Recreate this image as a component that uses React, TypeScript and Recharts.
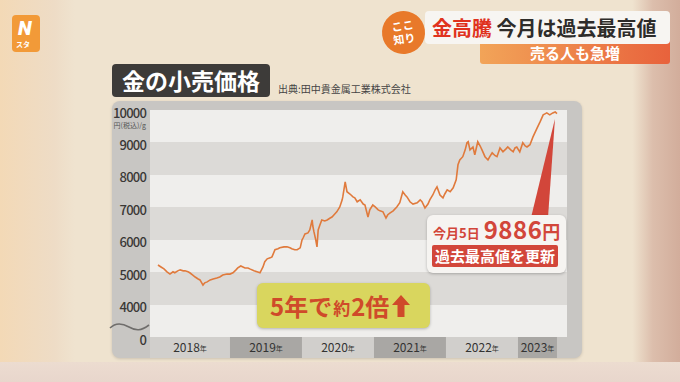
import React from 'react';
import { LineChart, Line, XAxis, YAxis, CartesianGrid, ReferenceArea, ReferenceDot } from 'recharts';

// months counted from Jan 2018
const MONTHS = [
  0, 0.5, 1, 1.5, 2, 2.5, 2.8, 3.3, 3.7, 4.2,
  4.5, 5, 5.3, 5.8, 6.2, 6.7, 7, 7.5, 7.8, 8.2,
  8.7, 9.2, 9.8, 10.3, 10.8, 11.5, 12, 12.5, 13, 13.3,
  13.8, 14.5, 15, 15.3, 16, 16.5, 17, 17.5, 17.8, 18.2,
  18.7, 19, 19.5, 20, 20.3, 21, 21.5, 22, 22.3, 22.8,
  23.2, 23.7, 24, 24.2, 24.5, 25, 25.3, 25.7, 25.8, 26,
  26.3, 26.5, 26.7, 27, 27.3, 27.8, 28.2, 28.7, 29, 29.5,
  29.8, 30.3, 30.7, 30.8, 31.2, 31.5, 32, 32.5, 32.8, 33.2,
  33.7, 34.2, 34.5, 35, 35.3, 35.8, 36.2, 36.7, 37, 37.5,
  38, 38.3, 38.7, 39.2, 39.8, 40.3, 40.8, 41.2, 41.5, 42,
  42.5, 43.2, 43.7, 44, 44.5, 45, 45.3, 45.8, 46.2, 46.5,
  47, 47.5, 47.8, 48.2, 48.7, 49.2, 49.7, 50, 50.3, 50.8,
  51.2, 51.5, 51.7, 52, 52.5, 52.8, 53.3, 53.7, 54, 54.5,
  55, 55.3, 55.7, 56.2, 56.5, 57, 57.5, 58, 58.3, 58.8,
  59.2, 59.5, 59.8, 60.3, 60.8, 61.2, 61.5, 62, 62.5, 63.2,
  63.7, 64.2, 64.5, 64.8, 65.3, 65.8, 66.2, 66.5,
];

// 円(税込)/g
const PRICES = [
  5220, 5160, 5100, 5010, 4940, 5010, 4980, 5040, 5070, 5040,
  5040, 5010, 4980, 4910, 4850, 4790, 4760, 4600, 4670, 4700,
  4760, 4790, 4820, 4850, 4910, 4940, 4940, 4980, 5070, 5130,
  5190, 5130, 5130, 5100, 5040, 5010, 4980, 5160, 5320, 5410,
  5440, 5470, 5690, 5720, 5750, 5780, 5780, 5750, 5720, 5690,
  5690, 5750, 5990, 6060, 6180, 6210, 6300, 6610, 6430, 6240,
  5990, 5780, 6300, 6460, 6610, 6580, 6610, 6670, 6700, 6800,
  6860, 7010, 7230, 7320, 7780, 7480, 7410, 7320, 7290, 7170,
  7230, 7100, 7070, 6700, 6920, 7070, 7010, 6920, 6890, 6860,
  6670, 6770, 6830, 6890, 7010, 7140, 7480, 7380, 7320, 7170,
  7100, 7140, 7230, 7170, 6980, 7100, 7230, 7380, 7540, 7630,
  7380, 7290, 7410, 7540, 7480, 7600, 7850, 8310, 8460, 8560,
  8770, 8990, 9020, 8770, 8860, 8620, 9020, 8890, 8770, 8560,
  8460, 8560, 8680, 8590, 8560, 8830, 8710, 8800, 8860, 8770,
  8710, 8830, 8860, 8710, 8990, 8890, 8860, 8930, 9170, 9450,
  9640, 9850, 9880, 9910, 9850, 9910, 9940, 9886,
];

const YEARS = ['2018', '2019', '2020', '2021', '2022', '2023'];
const YEAR_FROM = [-1.33, 12, 24, 36, 48, 60];
const YEAR_TO = [12, 24, 36, 48, 60, 66.5];

const Y_TICKS = [3000, 4000, 5000, 6000, 7000, 8000, 9000, 10000];
const Y_LABELS = ['0', '4000', '5000', '6000', '7000', '8000', '9000', '10000'];

const LATEST_DAY = '今月5日';
const LATEST_PRICE = 9886;

const data = MONTHS.map((m, i) => ({ m, price: PRICES[i] }));

const JP = '"Noto Sans CJK JP", "Noto Sans", sans-serif';
const RED = '#d2463a';
const YEAR_ROW_BOTTOM = 2352;

const YTick = (props: any) => {
  const { x, y, payload } = props;
  const label = Y_LABELS[Y_TICKS.indexOf(payload.value)];
  return (
    <g>
      <text x={x} y={y + 4} textAnchor="end" dominantBaseline="middle" fontSize={13} fontWeight={500} letterSpacing={-0.8} fill="#3a3836" fontFamily={JP}>
        {label}
      </text>
      {payload.value === 10000 && (
        <text x={x} y={y + 18} textAnchor="end" fontSize={7} fill="#555" fontFamily={JP}>円(税込)/g</text>
      )}
    </g>
  );
};

const YearLabel = (props: any) => {
  const { viewBox, year } = props;
  const { x, y, width, height } = viewBox;
  return (
    <text x={x + width / 2} y={y + height / 2 + 1} textAnchor="middle" dominantBaseline="middle" fontSize={12} fill="#333" fontFamily={JP}>
      {year}
      <tspan fontSize={7}>年</tspan>
    </text>
  );
};

const Wedge = (props: any) => {
  const { cx, cy } = props;
  return <polygon points={`${cx - 2},${cy + 5} ${cx - 26},${cy + 104} ${cx - 9},${cy + 104}`} fill={RED} />;
};

export default function App() {
  return (
    <div style={{
      position: 'absolute', left: 0, top: 0, width: 680, height: 382, overflow: 'hidden', fontFamily: JP,
      background: 'linear-gradient(90deg, #f3d9b6 0%, #eedcc6 8%, #efe3cf 11%, #efe3cf 93%, #dcbeac 96%, #d2ad9b 100%)',
    }}>
      <div style={{ position: 'absolute', left: 0, top: 362, width: 680, height: 20, background: 'linear-gradient(180deg, #ecdcd0, #e8d6cc)' }} />

      {/* logo */}
      <div style={{ position: 'absolute', left: 12, top: 15, width: 28, height: 37, borderRadius: 4, background: '#f29a38', color: '#fff' }}>
        <div style={{ position: 'absolute', left: 6, top: 1, fontSize: 20, fontWeight: 900, fontStyle: 'italic', fontFamily: 'Roboto, sans-serif' }}>N</div>
        <div style={{ position: 'absolute', left: 4, top: 24, fontSize: 7, fontWeight: 700 }}>スタ</div>
      </div>

      {/* caption top right */}
      <div style={{ position: 'absolute', left: 480, top: 40, width: 190, height: 24, borderRadius: 3, background: 'linear-gradient(90deg, #f2a458, #e8623c)', color: '#fff', fontSize: 15, fontWeight: 700, lineHeight: '22px', paddingTop: 2, boxSizing: 'border-box', textAlign: 'center' }}>
        売る人も急増
      </div>
      <div style={{ position: 'absolute', left: 425, top: 11, width: 245, height: 33, borderRadius: 4, background: '#f7f5f2', fontSize: 20, fontWeight: 700, lineHeight: '33px', paddingLeft: 7, boxSizing: 'border-box', color: '#2e2c2a', whiteSpace: 'nowrap' }}>
        <span style={{ color: '#e0321e' }}>金高騰</span> 今月は過去最高値
      </div>
      <div style={{ position: 'absolute', left: 382, top: 11, width: 43, height: 43, borderRadius: '50%', background: '#e8792a', color: '#fff', fontSize: 11, fontWeight: 700, lineHeight: '13px', textAlign: 'center', paddingTop: 8, boxSizing: 'border-box', transform: 'rotate(-8deg)' }}>
        ここ<br />知り
      </div>

      {/* title */}
      <div style={{ position: 'absolute', left: 112, top: 64, width: 158, height: 33, borderRadius: 4, background: '#3d3b39', color: '#fff', fontSize: 23, fontWeight: 700, lineHeight: '33px', textAlign: 'center' }}>
        金の小売価格
      </div>
      <div style={{ position: 'absolute', left: 278, top: 81, fontSize: 10, color: '#444', whiteSpace: 'nowrap' }}>出典:田中貴金属工業株式会社</div>

      {/* chart frame */}
      <div style={{ position: 'absolute', left: 112, top: 101, width: 470, height: 257, borderRadius: 8, background: '#c8c6c3', boxShadow: '0 1px 3px rgba(0,0,0,0.15)' }} />
      <div style={{ position: 'absolute', left: 112, top: 101 }}>
        <LineChart width={470} height={257} data={data} margin={{ top: 9, right: 15, bottom: 21, left: 4 }} style={{ overflow: 'visible' }}>
          <CartesianGrid vertical={false} stroke="transparent" horizontalFill={['#efeeec', '#dcdad7']} />
          <XAxis type="number" dataKey="m" domain={[-1.33, 68.17]} allowDataOverflow hide />
          <YAxis
            type="number"
            domain={[3000, 10000]}
            allowDataOverflow
            ticks={Y_TICKS}
            width={34}
            axisLine={false}
            tickLine={false}
            tickSize={0}
            tickMargin={4}
            tick={<YTick />}
          />
          {YEARS.map((yr, i) => (
            <ReferenceArea
              key={yr}
              x1={YEAR_FROM[i]}
              x2={YEAR_TO[i]}
              y1={YEAR_ROW_BOTTOM}
              y2={3000}
              ifOverflow="visible"
              fill={i % 2 === 0 ? '#d1cfcc' : '#a9a7a4'}
              fillOpacity={1}
              stroke="none"
              label={<YearLabel year={yr} />}
            />
          ))}
          <ReferenceDot x={MONTHS[MONTHS.length - 1]} y={LATEST_PRICE} ifOverflow="visible" shape={<Wedge />} />
          <Line type="linear" dataKey="price" stroke="#e07a3c" strokeWidth={1.6} dot={false} isAnimationActive={false} />
        </LineChart>
      </div>

      {/* axis break */}
      <svg style={{ position: 'absolute', left: 0, top: 0 }} width={680} height={382}>
        <path d="M110,328 C116,322 122,323 129,327 S141,331 149,325" fill="none" stroke="#6f6d6b" strokeWidth={1.6} />
      </svg>

      {/* 5年で約2倍 */}
      <div style={{ position: 'absolute', left: 257, top: 283, width: 173, height: 45, borderRadius: 6, background: '#d9d65e', boxShadow: '0 1px 3px rgba(0,0,0,0.25)', color: '#cf4a2a', fontWeight: 700, whiteSpace: 'nowrap', display: 'flex', alignItems: 'center', paddingLeft: 13, boxSizing: 'border-box' }}>
        <span style={{ fontSize: 24 }}>5年で</span>
        <span style={{ fontSize: 17, margin: '3px 1px 0' }}>約</span>
        <span style={{ fontSize: 24 }}>2倍</span>
        <svg width={18} height={24} style={{ marginLeft: 3 }}>
          <polygon points="9,1 18,11 12.5,11 12.5,23 5.5,23 5.5,11 0,11" fill="#cf4a2a" />
        </svg>
      </div>

      {/* latest value */}
      <div style={{ position: 'absolute', left: 427, top: 215, width: 139, height: 58, borderRadius: 6, background: '#f6f4f1', boxShadow: '0 1px 3px rgba(0,0,0,0.25)' }}>
        <div style={{ position: 'absolute', left: 6, top: 1, height: 25, display: 'flex', alignItems: 'flex-end', whiteSpace: 'nowrap', color: RED, fontWeight: 700, lineHeight: 1 }}>
          <span style={{ fontSize: 13, paddingBottom: 2 }}>{LATEST_DAY}</span>
          <span style={{ fontSize: 24, marginLeft: 4, letterSpacing: 0.5 }}>{LATEST_PRICE}</span>
          <span style={{ fontSize: 18, paddingBottom: 1 }}>円</span>
        </div>
        <div style={{ position: 'absolute', left: 5, top: 30, width: 126, height: 22, borderRadius: 2, background: RED, color: '#fff', fontSize: 15, fontWeight: 700, lineHeight: '22px', textAlign: 'center' }}>
          過去最高値を更新
        </div>
      </div>
    </div>
  );
}
